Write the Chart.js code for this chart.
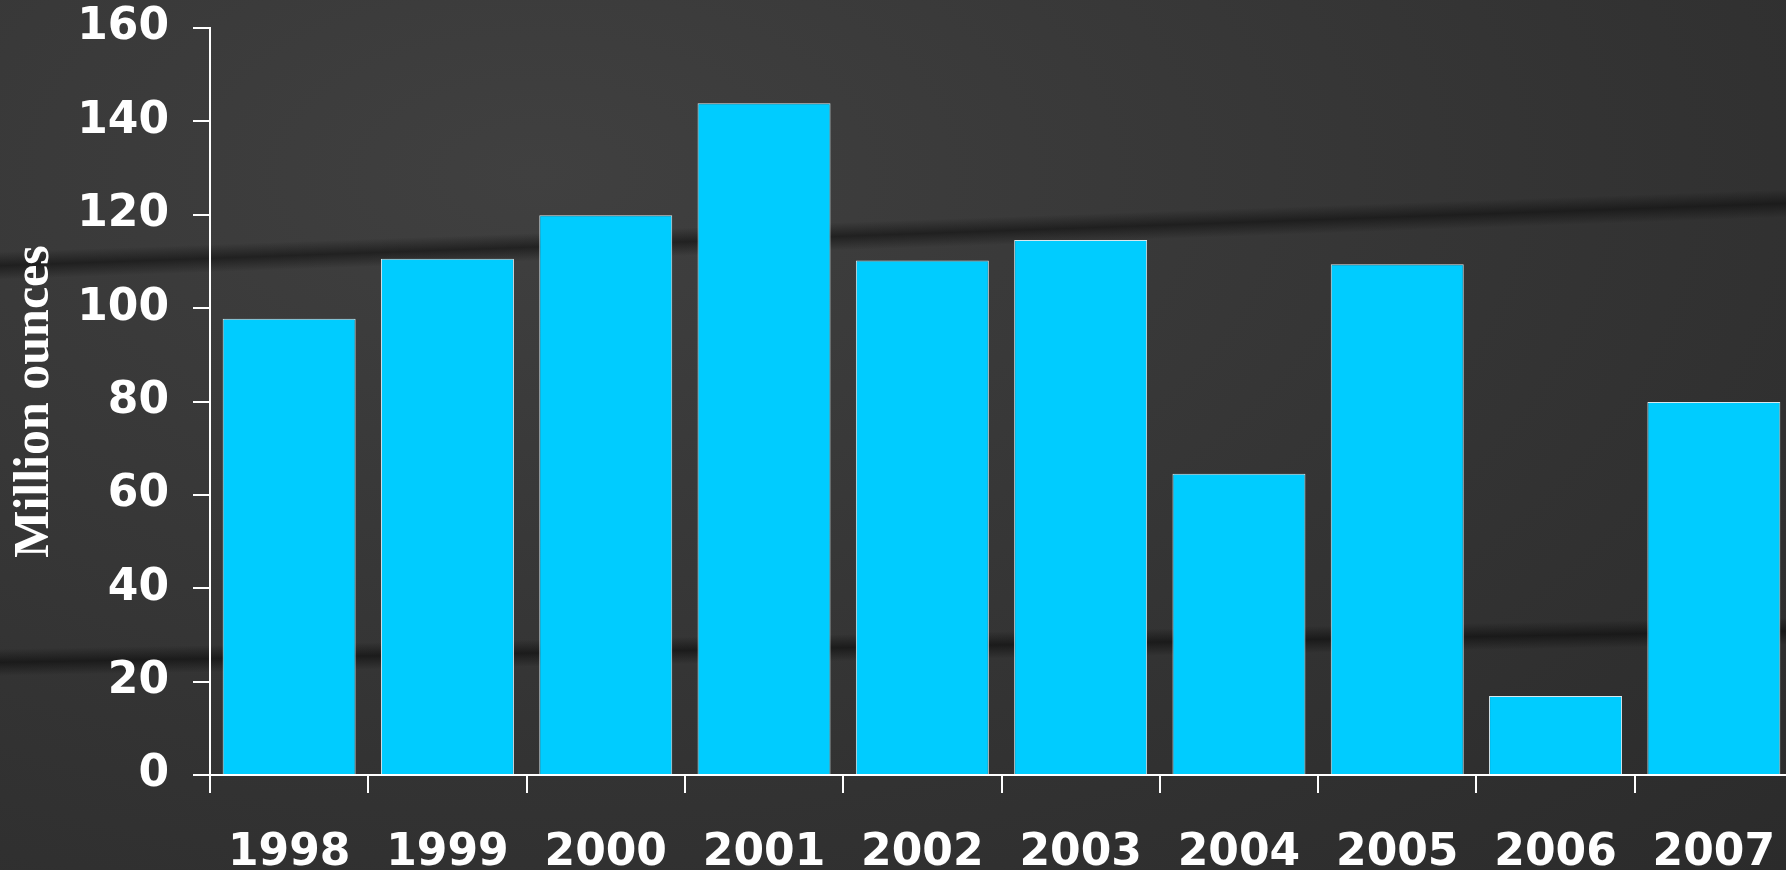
<!DOCTYPE html>
<html lang="en">
<head>
    <meta charset="UTF-8">
    <title>Million ounces by year</title>
    <script src="https://cdn.jsdelivr.net/npm/chart.js"></script>
    <style>
        html, body {
            margin: 0;
            padding: 0;
            width: 1786px;
            height: 870px;
            overflow: hidden;
            background-color: #383838;
        }
        .stone {
            position: absolute;
            left: 0; top: 0;
            width: 1786px; height: 870px;
            background:
                linear-gradient(178deg, transparent 27%, rgba(10,10,10,0.55) 28.5%, transparent 30%),
                linear-gradient(179deg, transparent 72%, rgba(10,10,10,0.6) 73.5%, transparent 75%),
                radial-gradient(ellipse at 30% 20%, #404040 0%, #333 60%, #2b2b2b 100%);
        }
        .wrap {
            position: absolute;
            left: 0; top: 0;
            width: 1800px;
            height: 870px;
        }
    </style>
</head>
<body>
<div class="stone"></div>
<div class="wrap"><canvas id="silverChart"></canvas></div>

<script>
    const years = ["1998", "1999", "2000", "2001", "2002", "2003", "2004", "2005", "2006", "2007"];
    const ounces = [97.7, 110.6, 119.9, 143.9, 110.2, 114.6, 64.5, 109.4, 16.9, 79.9];
    const yTicks = [0, 20, 40, 60, 80, 100, 120, 140, 160];

    const tickFont = { family: "'DejaVu Sans', sans-serif", size: 44, weight: "bold" };

    new Chart(document.getElementById("silverChart"), {
        type: "bar",
        data: {
            labels: years,
            datasets: [{
                data: ounces,
                backgroundColor: "#00ccff",
                borderColor: "#d8e8ee",
                borderWidth: 1,
                barPercentage: 0.84,
                categoryPercentage: 1.0
            }]
        },
        options: {
            responsive: true,
            maintainAspectRatio: false,
            animation: false,
            layout: { padding: { top: 28, right: 7, left: 0, bottom: 0 } },
            plugins: { legend: { display: false }, tooltip: { enabled: false } },
            scales: {
                x: {
                    grid: { color: "#ffffff", lineWidth: 2, drawOnChartArea: false, tickLength: 18, offset: true },
                    border: { color: "#ffffff", width: 2 },
                    ticks: { color: "#ffffff", font: tickFont, padding: 34, maxRotation: 0 },
                    afterFit: (s) => { s.height = 95; s.paddingLeft = 0; s.paddingRight = 0; }
                },
                y: {
                    min: 0,
                    max: 160,
                    afterBuildTicks: (s) => { s.ticks = yTicks.map(v => ({ value: v })); },
                    grid: { color: "#ffffff", lineWidth: 2, drawOnChartArea: false, tickLength: 17 },
                    border: { color: "#ffffff", width: 2 },
                    ticks: { color: "#ffffff", font: tickFont, padding: 24 },
                    title: {
                        display: true,
                        text: "Million ounces",
                        color: "#ffffff",
                        font: { family: "'Liberation Serif', 'Times New Roman', serif", size: 50, weight: "bold" },
                        padding: { top: 5, bottom: 0 }
                    },
                    afterFit: (s) => { s.width = 210; s.paddingTop = 0; s.paddingBottom = 0; }
                }
            }
        }
    });
</script>
</body>
</html>
